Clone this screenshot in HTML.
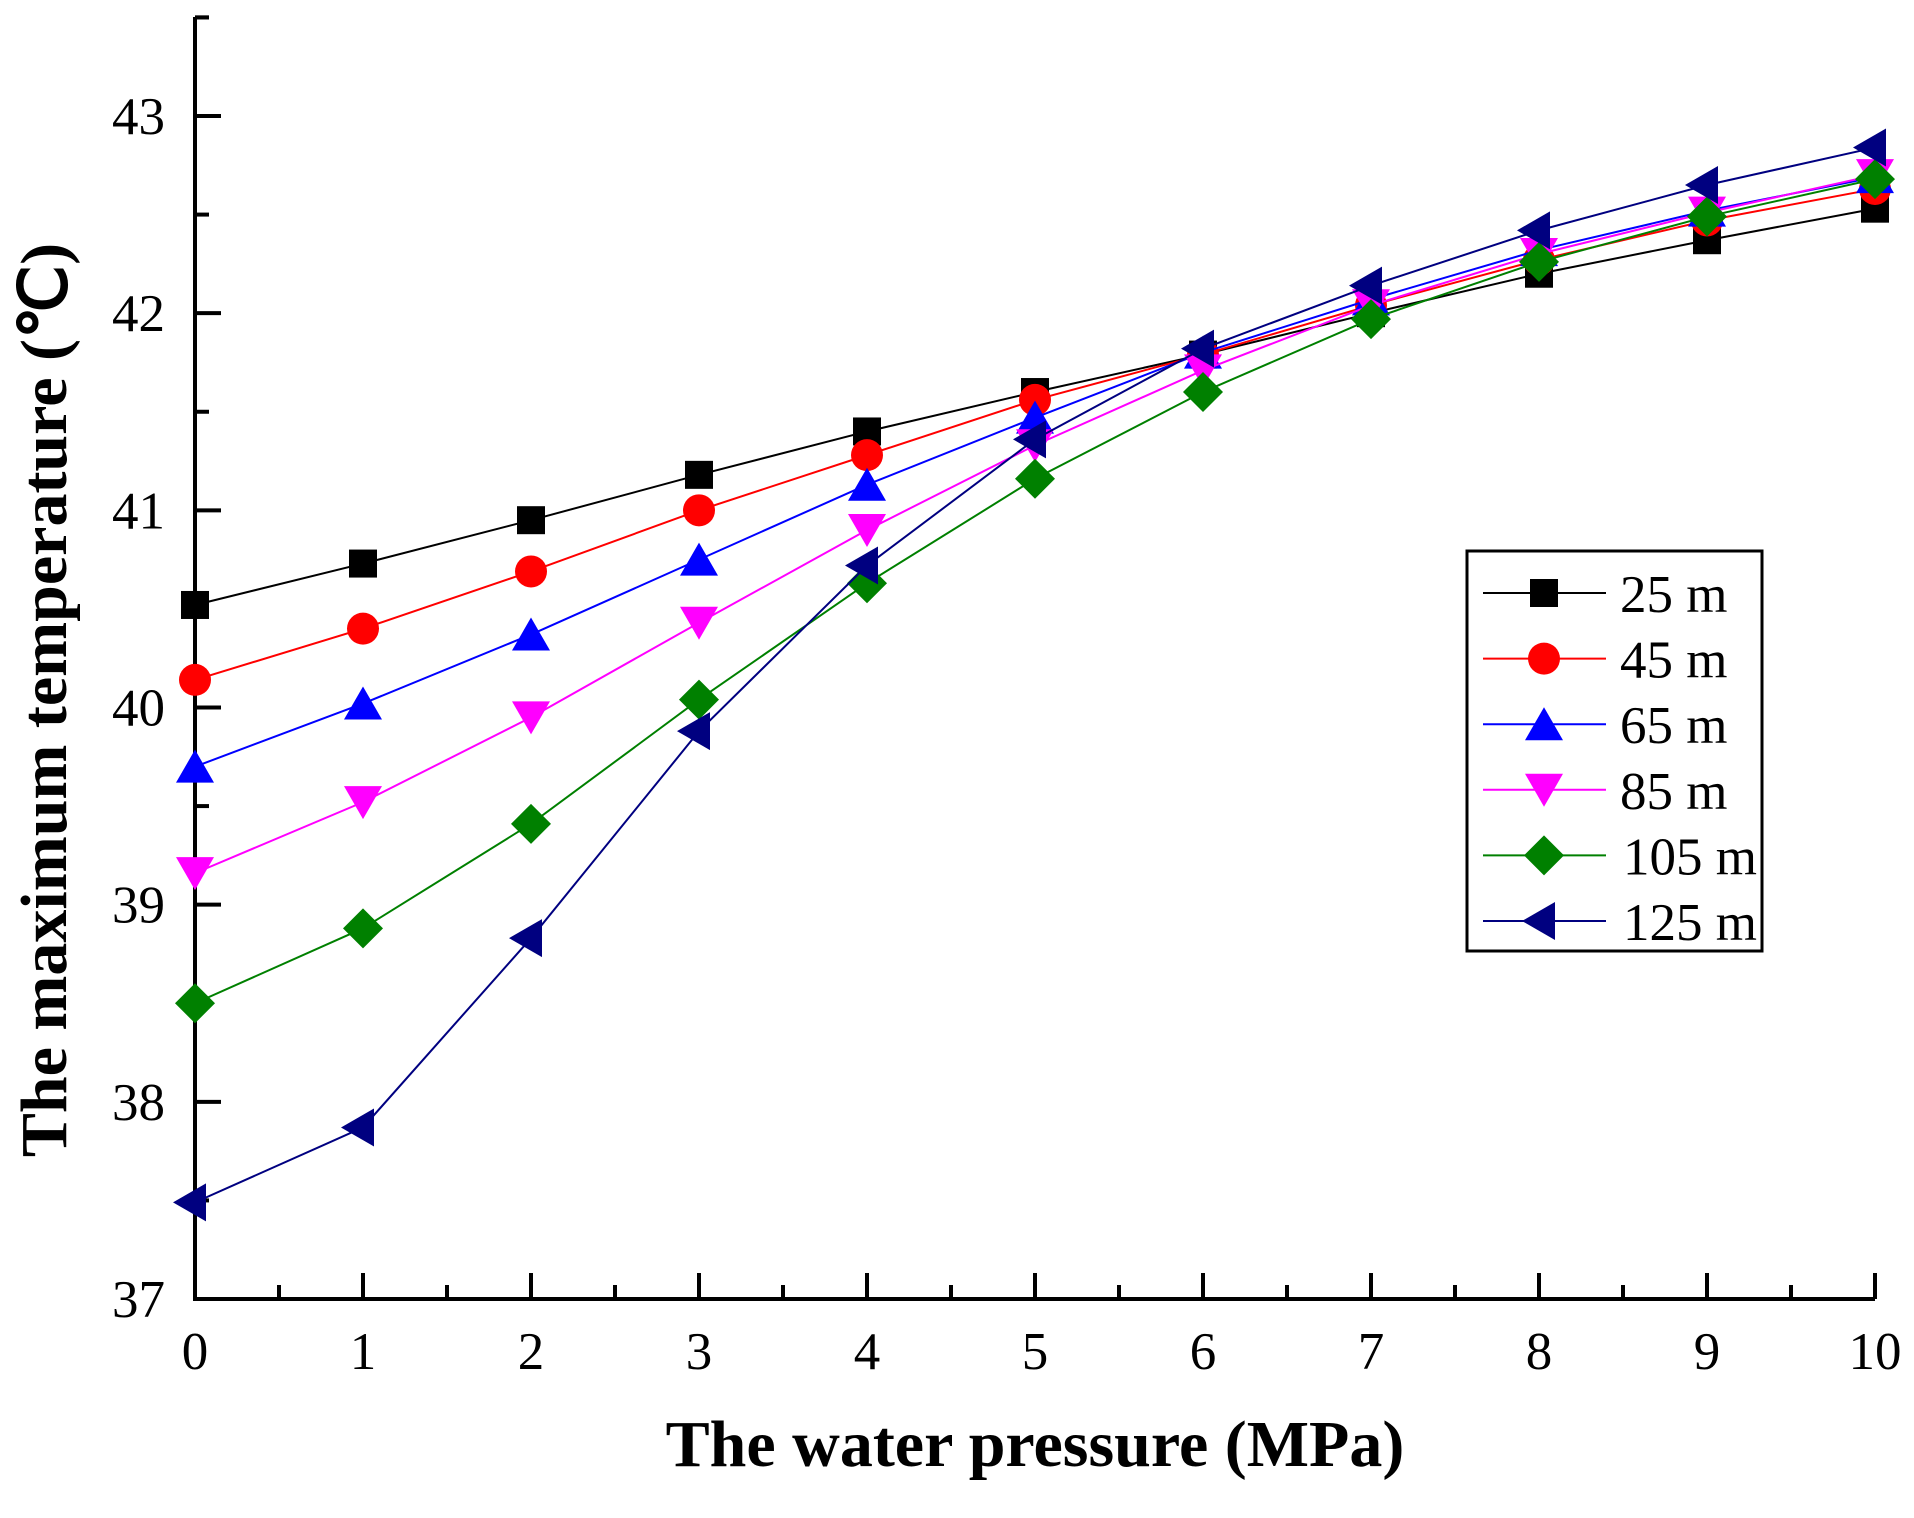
<!DOCTYPE html>
<html><head><meta charset="utf-8"><style>
body{margin:0;background:#fff}
svg text{font-family:"Liberation Serif",serif;fill:#000}
</style></head><body>
<svg id="chart" width="1914" height="1513" viewBox="0 0 1914 1513" xmlns="http://www.w3.org/2000/svg">
<g id="plot"></g>
<text x="1035" y="1440" font-size="66" font-weight="bold" text-anchor="middle" dy="26">The water pressure (MPa)</text>
<text transform="translate(66,700) rotate(-90)" font-size="66" font-weight="bold" text-anchor="middle">The maximum temperature  (℃)</text>
</svg>
<script>
const xValues=[0,1,2,3,4,5,6,7,8,9,10];
const seriesNames=["25 m","45 m","65 m","85 m","105 m","125 m"];
const s25=[40.52,40.73,40.95,41.18,41.40,41.60,41.79,42.0,42.2,42.37,42.53];
const s45=[40.14,40.40,40.69,41.0,41.28,41.56,41.79,42.04,42.27,42.47,42.63];
const s65=[39.70,40.02,40.37,40.75,41.13,41.47,41.80,42.07,42.32,42.52,42.69];
const s85=[39.16,39.52,39.95,40.43,40.90,41.33,41.71,42.04,42.30,42.51,42.70];
const s105=[38.50,38.88,39.41,40.04,40.63,41.16,41.60,41.97,42.26,42.49,42.68];
const s125=[37.49,37.87,38.83,39.88,40.72,41.36,41.82,42.14,42.42,42.65,42.84];
const xTicks=[0,1,2,3,4,5,6,7,8,9,10];
const yTicks=[37,38,39,40,41,42,43];

const NS="http://www.w3.org/2000/svg";
const X0=195,X1=1875,Y0=1299,YT=116;
const xs=v=>X0+(v-0)/10*(X1-X0);
const ys=v=>Y0-(v-37)/6*(Y0-YT);
const g=document.getElementById('plot');
function mk(t,a,p){const e=document.createElementNS(NS,t);for(const k in a)e.setAttribute(k,a[k]);(p||g).appendChild(e);return e;}

let ax=mk('path',{d:`M${X0},17 L${X0},${Y0} L${X1},${Y0}`,fill:'none',stroke:'#000','stroke-width':4});


xTicks.forEach(v=>{
  let t=mk('line',{x1:xs(v),x2:xs(v),y1:Y0,y2:Y0-26,stroke:'#000','stroke-width':4});
  
  
  if(v<10){let m=mk('line',{x1:xs(v+0.5),x2:xs(v+0.5),y1:Y0,y2:Y0-14,stroke:'#000','stroke-width':4});
  
  }
  let l=mk('text',{x:xs(v),y:Y0+70,'font-size':53,'text-anchor':'middle'});l.textContent=v;
  
  
});
yTicks.forEach(v=>{
  let t=mk('line',{x1:X0,x2:X0+26,y1:ys(v),y2:ys(v),stroke:'#000','stroke-width':4});
  
  
  [v+0.5].forEach(h=>{if(h<43.6){let m=mk('line',{x1:X0,x2:X0+14,y1:ys(h),y2:ys(h),stroke:'#000','stroke-width':4});
  
  }});
  let l=mk('text',{x:165,y:ys(v)+18,'font-size':53,'text-anchor':'end'});l.textContent=v;
  
  
});
let mt=mk('line',{x1:X0,x2:X0+14,y1:ys(43.5),y2:ys(43.5),stroke:'#000','stroke-width':4});



const data=[s25,s45,s65,s85,s105,s125];
const colors=['#000','#f00','#00f','#f0f','#008000','#000080'];
const shapes=['sq','ci','up','dn','di','lt'];
function marker(sh,x,y,c,p){
  let e;
  if(sh==='sq')e=mk('rect',{x:x-14,y:y-14,width:28,height:28,fill:c},p);
  else if(sh==='ci')e=mk('circle',{cx:x,cy:y,r:16,fill:c},p);
  else if(sh==='up')e=mk('polygon',{points:`${x},${y-17} ${x-19},${y+16} ${x+19},${y+16}`,fill:c},p);
  else if(sh==='dn')e=mk('polygon',{points:`${x},${y+17} ${x-19},${y-16} ${x+19},${y-16}`,fill:c},p);
  else if(sh==='di')e=mk('polygon',{points:`${x},${y-20} ${x+20},${y} ${x},${y+20} ${x-20},${y}`,fill:c},p);
  else e=mk('polygon',{points:`${x-22},${y} ${x+11},${y-19} ${x+11},${y+19}`,fill:c},p);
  return e;
}
data.forEach((s,i)=>{
  const sg=mk('g',{});
  
  
  let ln=mk('polyline',{points:s.map((v,j)=>xs(xValues[j])+','+ys(v)).join(' '),fill:'none',stroke:colors[i],'stroke-width':2},sg);
  
  
  s.forEach((v,j)=>{let m=marker(shapes[i],xs(xValues[j]),ys(v),colors[i],sg);
    
    });
});
const lg=mk('g',{});


mk('rect',{x:1467,y:551,width:295,height:400,fill:'#fff',stroke:'#000','stroke-width':3},lg);
seriesNames.forEach((n,i)=>{
  const y=593+i*65.6;
  const eg=mk('g',{},lg);
  
  
  mk('line',{x1:1483,x2:1606,y1:y,y2:y,stroke:colors[i],'stroke-width':2},eg);
  marker(shapes[i],1544,y,colors[i],eg);
  const t=mk('text',{x:i<4?1620:1623,y:y+19,'font-size':53},eg);t.textContent=n;
});
</script>
</body></html>
